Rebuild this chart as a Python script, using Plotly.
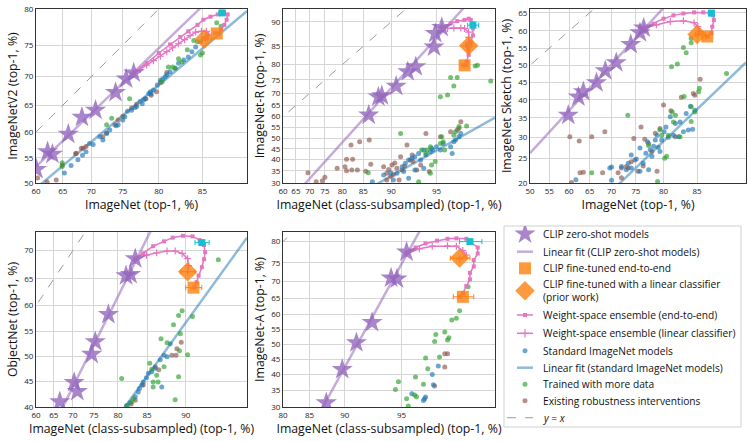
import numpy as np
import plotly.graph_objects as go

# ---------------- data (percent values) ----------------
# Panel 1: ImageNet vs ImageNetV2
v2_star_x = [60.1, 62.2, 63.1, 66.0, 68.4, 70.7, 73.9, 75.5, 76.6]
v2_star_y = [52.7, 56.2, 55.7, 59.6, 62.8, 64.1, 67.3, 69.6, 70.6]
v2_blue_x = [65.3, 67.7, 69.1, 69.7, 71.4, 71.9, 73.0, 74.3, 75.0, 75.7, 76.3, 77.0, 77.5, 78.2, 78.7, 78.9, 79.3, 79.8, 80.2, 80.8, 81.4, 82.0, 82.4, 83.0, 83.5, 83.9, 84.3, 84.8, 85.1, 85.5, 72.5, 74.0, 76.8, 78.0, 79.0, 81.0, 66.5, 68.5, 70.3, 75.3, 77.8, 80.5]
v2_blue_y = [52.0, 54.6, 56.2, 57.8, 59.1, 58.5, 60.4, 61.4, 62.3, 63.9, 64.1, 64.8, 65.7, 66.2, 67.1, 67.4, 67.7, 68.6, 69.4, 70.0, 70.8, 71.4, 72.2, 72.7, 73.2, 74.0, 74.7, 75.5, 76.0, 76.5, 59.8, 61.2, 64.6, 66.0, 67.0, 70.3, 53.5, 55.5, 57.6, 62.9, 65.3, 69.6]
v2_brown_x = [64.9, 67.4, 68.6, 69.1, 71.9, 72.5, 73.8, 74.3, 75.0, 76.3, 77.0, 78.3, 79.0, 79.7, 80.2, 81.0, 60.3, 62.1, 63.8, 67.3, 68.3]
v2_brown_y = [53.6, 55.9, 56.9, 57.2, 59.1, 59.8, 61.4, 62.3, 63.0, 64.5, 65.2, 66.2, 66.8, 67.4, 69.0, 70.7, 51.0, 50.2, 50.6, 55.8, 56.9]
v2_green_x = [64.9, 64.9, 73.3, 72.5, 76.0, 81.2, 82.4, 83.4, 84.5, 85.0, 84.1, 82.8, 81.7, 80.4, 84.8, 82.0, 86.4, 86.8]
v2_green_y = [54.0, 53.3, 62.6, 61.4, 66.2, 71.6, 72.9, 74.3, 75.5, 73.8, 75.7, 72.4, 71.6, 69.1, 73.5, 71.4, 78.2, 77.7]
v2_e2e_x = [76.6, 78.4, 80.0, 81.4, 82.6, 83.5, 84.5, 85.1, 85.8, 86.5, 87.0, 87.4, 87.3, 87.1, 86.8, 86.4]
v2_e2e_y = [70.6, 72.2, 73.8, 75.1, 76.2, 77.0, 77.9, 78.6, 79.0, 79.3, 79.5, 79.3, 78.6, 77.9, 77.2, 76.7]
v2_lin_x = [76.6, 77.5, 78.4, 79.3, 80.2, 81.0, 81.7, 82.4, 83.1, 83.7, 84.3, 84.9, 85.4, 85.6, 85.3]
v2_lin_y = [70.6, 71.2, 71.9, 72.6, 73.3, 74.0, 74.6, 75.2, 75.8, 76.4, 76.9, 77.0, 77.0, 76.5, 75.9]
v2_ft = [86.4, 76.7, 0.3]      # x, y, x-error
v2_ftlin = [85.2, 75.9, 0.3]
v2_best = [86.9, 79.5, 0.3]
v2_bluefit = [0.838, -0.382]   # slope, intercept in logit space

# Panel 2: ImageNet-R
r_star_x = [86.1, 87.9, 88.5, 90.7, 92.2, 93.1, 94.8, 94.9, 95.4]
r_star_y = [60.7, 68.5, 69.0, 72.7, 77.8, 79.4, 84.8, 87.8, 89.0]
r_brown_x = [69.4, 72.2, 74.2, 75.0, 78.6, 80.7, 81.1, 82.6, 81.1, 82.4, 83.7, 85.5, 86.5, 82.2, 84.2, 86.2, 88.8, 89.3, 89.9, 90.1, 90.8, 91.3, 91.5, 91.1, 92.1, 92.7, 92.8, 93.2, 93.6, 94.1, 94.4, 95.3, 96.0, 96.4, 96.6, 96.5, 92.5, 89.3, 90.3, 90.5, 89.6, 91.8]
r_brown_y = [34.2, 30.5, 30.9, 32.3, 36.1, 36.8, 40.1, 40.1, 35.1, 35.4, 35.4, 34.9, 37.9, 46.8, 48.3, 49.1, 36.8, 34.0, 32.6, 37.6, 36.1, 41.3, 35.4, 31.2, 46.8, 42.1, 39.1, 35.4, 37.6, 52.2, 34.7, 50.6, 53.0, 53.8, 57.7, 54.6, 39.8, 31.2, 33.5, 38.5, 35.6, 37.0]
r_blue_x = [86.8, 88.8, 89.9, 90.8, 91.5, 91.9, 92.3, 92.7, 93.0, 93.4, 93.6, 93.9, 94.1, 94.5, 94.7, 95.0, 95.3, 95.5, 96.0, 96.1, 96.2, 96.3, 96.6, 96.5, 93.9, 93.0, 91.7, 90.3, 92.3, 94.6]
r_blue_y = [30.5, 33.3, 34.2, 34.0, 36.8, 38.3, 39.8, 40.6, 41.3, 42.8, 39.8, 44.4, 42.1, 43.6, 44.4, 45.9, 44.4, 47.5, 45.9, 42.8, 48.3, 49.1, 52.2, 50.6, 36.1, 35.4, 34.7, 31.2, 31.9, 45.2]
r_green_x = [91.3, 86.0, 93.4, 94.5, 94.6, 94.9, 94.1, 94.2, 94.5, 95.3, 95.4, 95.6, 96.2, 96.3, 96.5, 96.9, 95.5, 93.7, 95.3, 95.8, 96.0, 96.4, 96.2, 97.9, 97.4, 97.3]
r_green_y = [52.2, 34.2, 30.5, 34.0, 37.6, 39.1, 42.8, 44.4, 45.9, 47.5, 50.6, 44.4, 51.4, 53.0, 55.4, 55.7, 48.3, 44.4, 68.6, 69.3, 75.8, 75.8, 72.8, 74.6, 79.8, 79.6]
r_e2e_x = [95.4, 96.0, 96.4, 96.8, 97.0, 97.1, 97.2, 97.2, 97.2, 97.1, 97.0, 97.0, 96.9, 96.8]
r_e2e_y = [89.0, 89.7, 90.1, 90.3, 90.5, 90.3, 89.7, 88.8, 87.4, 85.9, 84.3, 82.8, 80.9, 79.8]
r_lin_x = [95.4, 95.8, 96.2, 96.6, 96.8, 97.0, 97.0, 97.0, 96.9]
r_lin_y = [89.0, 88.8, 88.9, 88.9, 88.8, 88.1, 87.0, 85.9, 85.1]
r_ft = [96.8, 79.8, 0.15]
r_ftlin = [97.0, 85.1, 0.15]
r_best = [97.2, 89.4, 0.25]
r_bluefit = [0.6425, -2.126]

# Panel 3: ImageNet Sketch
s_star_x = [59.8, 62.3, 63.5, 66.6, 68.6, 71.0, 74.0, 75.8, 76.5]
s_star_y = [35.7, 40.8, 42.3, 44.9, 48.4, 50.8, 56.1, 59.5, 60.8]
s_blue_x = [61.7, 70.0, 72.1, 73.5, 74.1, 75.1, 75.8, 76.4, 76.9, 77.2, 78.0, 78.3, 78.6, 78.9, 79.4, 79.7, 80.1, 80.4, 80.8, 81.1, 81.6, 81.9, 82.4, 82.6, 83.1, 83.5, 83.8, 84.1, 84.4, 84.7, 77.4, 74.1, 70.0, 73.1, 75.8, 77.7, 79.1, 69.6]
s_blue_y = [20.6, 23.2, 23.3, 24.0, 25.8, 24.9, 27.4, 24.0, 26.2, 28.9, 25.5, 27.8, 29.3, 30.5, 26.6, 29.3, 31.4, 32.6, 30.0, 35.3, 30.5, 33.5, 30.1, 33.9, 31.4, 36.2, 31.8, 38.2, 32.0, 37.1, 22.6, 23.0, 20.5, 22.6, 22.3, 27.0, 27.6, 23.0]
s_brown_x = [60.2, 62.5, 65.5, 68.5, 62.7, 63.5, 68.0, 71.4, 72.1, 73.5, 74.1, 74.8, 74.6, 76.0, 76.7, 77.4, 78.6, 79.4, 80.0, 78.9, 81.9, 82.8, 84.5, 85.4, 84.7, 72.1, 73.1, 78.0, 60.6, 81.2, 75.4, 76.4]
s_brown_y = [30.1, 29.1, 30.1, 31.4, 22.0, 22.1, 22.0, 22.0, 21.0, 23.0, 24.3, 24.7, 29.7, 32.6, 29.5, 28.5, 31.0, 32.2, 38.5, 22.3, 30.1, 40.7, 41.8, 45.9, 41.3, 23.0, 23.3, 26.6, 20.1, 36.9, 22.3, 23.4]
s_green_x = [81.3, 82.2, 88.5, 73.4, 83.2, 85.3, 85.2, 84.2, 84.7, 81.4, 81.9, 81.6, 79.4, 79.7, 79.0, 80.5, 80.2, 80.8, 82.6, 84.2, 65.5, 77.4, 83.1, 83.5, 84.2, 84.2]
s_green_y = [49.6, 50.4, 47.6, 35.7, 40.9, 43.3, 42.3, 38.0, 36.6, 36.6, 35.7, 33.9, 31.8, 30.5, 20.3, 25.5, 25.1, 30.5, 30.1, 34.0, 22.0, 28.0, 55.2, 53.7, 57.9, 56.6]
s_e2e_x = [76.5, 78.3, 80.0, 81.6, 83.1, 84.6, 85.8, 86.6, 87.0, 87.1, 86.9, 86.8, 86.3]
s_e2e_y = [60.8, 62.0, 63.4, 64.3, 64.8, 65.1, 65.1, 65.0, 64.3, 63.0, 61.2, 59.4, 58.4]
s_lin_x = [76.5, 78.8, 81.1, 83.1, 84.6, 85.1, 85.4, 85.0]
s_lin_y = [60.8, 61.7, 62.6, 62.8, 62.3, 61.2, 59.8, 59.0]
s_ft = [86.3, 58.4, 0.2]
s_ftlin = [85.0, 59.0, 0.2]
s_best = [86.8, 64.9, 0.2]
s_bluefit = [1.085, -2.40]

# Panel 4: ObjectNet
o_star_x = [66.6, 70.3, 71.1, 74.5, 75.3, 78.1, 81.5, 82.3, 83.1]
o_star_y = [41.0, 44.8, 43.0, 50.4, 52.9, 58.3, 65.6, 65.8, 68.6]
o_green_x = [80.7, 93.0, 89.6, 89.2, 88.6, 90.7, 89.4, 87.0, 87.8, 89.3, 90.2, 85.4, 85.7, 86.4, 85.9, 86.6, 85.9, 89.2, 88.8, 87.4, 82.8, 82.5, 81.7]
o_green_y = [45.6, 68.4, 59.0, 58.1, 56.3, 57.9, 54.5, 53.5, 52.7, 51.1, 50.3, 48.6, 47.4, 46.2, 44.9, 44.9, 43.9, 45.9, 41.4, 47.9, 41.6, 41.0, 40.2]
o_blue_x = [81.6, 83.1, 83.6, 84.2, 84.4, 85.2, 85.7, 86.2, 86.9, 87.4, 87.8, 88.2, 87.1, 82.2, 84.9, 83.8]
o_blue_y = [40.3, 42.0, 42.9, 44.3, 44.9, 46.6, 46.9, 47.6, 49.3, 50.2, 49.9, 52.5, 43.9, 40.8, 45.7, 43.6]
o_brown_x = [84.4, 86.2, 88.4, 88.9, 89.0, 89.5, 83.1, 82.4, 86.7]
o_brown_y = [44.3, 47.9, 50.2, 50.2, 51.5, 52.8, 41.3, 40.6, 47.3]
o_e2e_x = [83.1, 84.4, 85.9, 87.4, 88.5, 89.7, 90.7, 91.4, 91.8, 91.9, 91.8, 91.6, 91.3, 91.1, 90.9]
o_e2e_y = [68.6, 69.5, 70.7, 71.5, 72.1, 72.4, 72.3, 71.7, 70.9, 69.7, 68.5, 67.1, 65.6, 64.4, 63.4]
o_lin_x = [83.1, 84.9, 86.4, 87.8, 88.8, 89.6, 90.2, 90.3, 90.2]
o_lin_y = [68.3, 69.2, 69.6, 69.9, 69.9, 69.5, 68.6, 67.4, 66.3]
o_ft = [90.8, 63.4, 0.8]
o_ftlin = [90.2, 66.3, 0.75]
o_best = [91.6, 71.3, 0.65]
o_bluefit = [0.927, -1.767]

# Panel 5: ImageNet-A
a_star_x = [87.6, 89.7, 91.3, 92.8, 94.3, 94.7, 95.3]
a_star_y = [31.2, 41.6, 50.5, 57.3, 71.0, 70.7, 77.7]
a_green_x = [97.85, 97.6, 97.5, 97.35, 97.1, 97.25, 96.75, 97.2, 96.7, 96.9, 96.3, 96.4, 95.8, 96.2, 94.8, 94.6, 95.3, 95.75, 95.4, 95.85]
a_green_y = [68.5, 61.1, 58.7, 58.1, 54.1, 52.2, 53.3, 51.4, 50.9, 45.7, 45.4, 41.8, 39.1, 36.8, 37.6, 35.2, 32.4, 33.5, 30.3, 33.0]
a_blue_x = [96.85, 96.6, 96.65, 95.6, 96.3, 96.25, 96.2]
a_blue_y = [42.7, 39.9, 36.7, 33.9, 32.9, 32.4, 31.9]
a_brown_x = [97.1, 97.2, 97.1, 96.7]
a_brown_y = [46.8, 46.8, 42.4, 36.3]
a_e2e_x = [95.3, 95.8, 96.3, 96.8, 97.2, 97.5, 97.8, 97.9, 98.1, 98.1, 98.0, 98.0, 97.9, 97.9, 97.8, 97.7, 97.6]
a_e2e_y = [77.5, 78.7, 79.6, 80.2, 80.6, 80.7, 80.6, 80.0, 78.7, 77.3, 75.7, 74.1, 72.4, 70.6, 68.7, 66.6, 65.5]
a_lin_x = [95.3, 96.0, 96.6, 97.2, 97.5, 97.7, 97.8, 97.6]
a_lin_y = [77.3, 78.4, 79.0, 79.1, 79.0, 78.0, 76.9, 76.0]
a_ft = [97.7, 65.5, 0.3]
a_ftlin = [97.6, 76.2, 0.3]
a_best = [97.9, 80.0, 0.3]

# axis ticks and ranges (percent)
v2_xticks = [60, 65, 70, 75, 80, 85]; v2_yticks = [50, 55, 60, 65, 70, 75, 80]
r_xticks = [60, 65, 70, 75, 80, 85, 90, 95]; r_yticks = list(range(30, 95, 5))
s_xticks = list(range(50, 90, 5)); s_yticks = list(range(20, 70, 5))
o_xticks = [60, 65, 70, 75, 80, 85, 90]; o_yticks = [40, 45, 50, 55, 60, 65, 70]
a_xticks = [80, 85, 90, 95]; a_yticks = list(range(30, 85, 5))

legend_labels = [
    'CLIP zero-shot models',
    'Linear fit (CLIP zero-shot models)',
    'CLIP fine-tuned end-to-end',
    'CLIP fine-tuned with a linear classifier<br>(prior work)',
    'Weight-space ensemble (end-to-end)',
    'Weight-space ensemble (linear classifier)',
    'Standard ImageNet models',
    'Linear fit (standard ImageNet models)',
    'Trained with more data',
    'Existing robustness interventions',
    '<i>y</i> = <i>x</i>',
]

# ---------------- helpers ----------------
def logit(p):
    p = np.asarray(p, dtype=float) / 100.0
    return np.log(p / (1.0 - p))

PURPLE = '#9467bd'
PURPLE_L = 'rgba(148,103,189,0.55)'
BLUE = '#1f77b4'
BLUE_L = 'rgba(31,119,180,0.5)'
GREEN = '#2ca02c'
BROWN = '#8c564b'
ORANGE = '#ff7f0e'
PINK = '#e377c2'
CYAN = '#17becf'
FONT = 'Open Sans'

W, H = 748, 442

def fx(px):
    return px / W

def fy(py):
    return 1 - py / H

panels = [
    dict(sx=v2_star_x, sy=v2_star_y, bx=v2_blue_x, by=v2_blue_y, gx=v2_green_x, gy=v2_green_y,
         rx=v2_brown_x, ry=v2_brown_y, ex=v2_e2e_x, ey=v2_e2e_y, lx=v2_lin_x, ly=v2_lin_y,
         ft=v2_ft, ftlin=v2_ftlin, best=v2_best, bfit=v2_bluefit,
         xr=[60, 89], yr=[50, 80], xt=v2_xticks, yt=v2_yticks,
         xtitle='ImageNet (top-1, %)', ytitle='ImageNetV2 (top-1, %)',
         px=(36, 247), py=(9, 183)),
    dict(sx=r_star_x, sy=r_star_y, bx=r_blue_x, by=r_blue_y, gx=r_green_x, gy=r_green_y,
         rx=r_brown_x, ry=r_brown_y, ex=r_e2e_x, ey=r_e2e_y, lx=r_lin_x, ly=r_lin_y,
         ft=r_ft, ftlin=r_ftlin, best=r_best, bfit=r_bluefit,
         xr=[60, 98.04], yr=[30, 91.96], xt=r_xticks, yt=r_yticks,
         xtitle='ImageNet (class-subsampled) (top-1, %)', ytitle='ImageNet-R (top-1, %)',
         px=(283, 495), py=(9, 183)),
    dict(sx=s_star_x, sy=s_star_y, bx=s_blue_x, by=s_blue_y, gx=s_green_x, gy=s_green_y,
         rx=s_brown_x, ry=s_brown_y, ex=s_e2e_x, ey=s_e2e_y, lx=s_lin_x, ly=s_lin_y,
         ft=s_ft, ftlin=s_ftlin, best=s_best, bfit=s_bluefit,
         xr=[50, 90.4], yr=[20, 66], xt=s_xticks, yt=s_yticks,
         xtitle='ImageNet (top-1, %)', ytitle='ImageNet Sketch (top-1, %)',
         px=(530, 746), py=(9, 183)),
    dict(sx=o_star_x, sy=o_star_y, bx=o_blue_x, by=o_blue_y, gx=o_green_x, gy=o_green_y,
         rx=o_brown_x, ry=o_brown_y, ex=o_e2e_x, ey=o_e2e_y, lx=o_lin_x, ly=o_lin_y,
         ft=o_ft, ftlin=o_ftlin, best=o_best, bfit=o_bluefit,
         xr=[60, 94.93], yr=[40, 73], xt=o_xticks, yt=o_yticks,
         xtitle='ImageNet (class-subsampled) (top-1, %)', ytitle='ObjectNet (top-1, %)',
         px=(36, 247), py=(232, 407)),
    dict(sx=a_star_x, sy=a_star_y, bx=a_blue_x, by=a_blue_y, gx=a_green_x, gy=a_green_y,
         rx=a_brown_x, ry=a_brown_y, ex=a_e2e_x, ey=a_e2e_y, lx=a_lin_x, ly=a_lin_y,
         ft=a_ft, ftlin=a_ftlin, best=a_best, bfit=None,
         xr=[80, 98.48], yr=[30, 82], xt=a_xticks, yt=a_yticks,
         xtitle='ImageNet (class-subsampled) (top-1, %)', ytitle='ImageNet-A (top-1, %)',
         px=(283, 495), py=(232, 407)),
]

fig = go.Figure()

def errx(v):
    x, e = v[0], v[2]
    return dict(type='data', symmetric=False,
                array=[float(logit(x + e) - logit(x))],
                arrayminus=[float(logit(x) - logit(x - e))],
                thickness=1, width=2.5)

STAR_M = dict(symbol='star', size=16, color=PURPLE, opacity=0.8, line=dict(width=0))
SQ_M = dict(symbol='square', size=12, color=ORANGE, opacity=0.8, line=dict(width=0))
DIA_M = dict(symbol='diamond', size=15, color=ORANGE, opacity=0.8, line=dict(width=0))
E2E_M = dict(symbol='square', size=4, color=PINK)
LIN_M = dict(symbol='cross-thin', size=5, color=PINK, line=dict(color=PINK, width=1.2))
PINK_L = dict(color=PINK, width=1.5)
YX_L = dict(color='#9a9a9a', width=1, dash='dash')

def dot(c):
    return dict(size=5, color=c, opacity=0.65, line=dict(width=0))

layout_axes = {}
for i, p in enumerate(panels):
    k = '' if i == 0 else str(i + 1)
    xa, ya = 'x' + k, 'y' + k
    xr = [float(v) for v in logit(p['xr'])]
    yr = [float(v) for v in logit(p['yr'])]
    common = dict(xaxis=xa, yaxis=ya, showlegend=False, hoverinfo='skip')

    lo, hi = min(xr[0], yr[0]), max(xr[1], yr[1])
    fig.add_trace(go.Scatter(x=[lo, hi], y=[lo, hi], mode='lines', line=YX_L, **common))
    sl, ic = np.polyfit(logit(p['sx']), logit(p['sy']), 1)
    fig.add_trace(go.Scatter(x=xr, y=[sl * xr[0] + ic, sl * xr[1] + ic], mode='lines',
                             line=dict(color=PURPLE_L, width=2.5), **common))
    if p['bfit'] is not None:
        bs, bi = p['bfit']
        fig.add_trace(go.Scatter(x=xr, y=[bs * xr[0] + bi, bs * xr[1] + bi], mode='lines',
                                 line=dict(color=BLUE_L, width=2.5), **common))
    for xs, ys, c in [(p['rx'], p['ry'], BROWN), (p['bx'], p['by'], BLUE), (p['gx'], p['gy'], GREEN)]:
        fig.add_trace(go.Scatter(x=logit(xs), y=logit(ys), mode='markers', marker=dot(c), **common))
    fig.add_trace(go.Scatter(x=logit(p['lx']), y=logit(p['ly']), mode='lines+markers',
                             line=PINK_L, marker=LIN_M, **common))
    fig.add_trace(go.Scatter(x=logit(p['ex']), y=logit(p['ey']), mode='lines+markers',
                             line=PINK_L, marker=E2E_M, **common))
    fig.add_trace(go.Scatter(x=logit(p['sx']), y=logit(p['sy']), mode='markers', marker=STAR_M, **common))
    fig.add_trace(go.Scatter(x=logit([p['ftlin'][0]]), y=logit([p['ftlin'][1]]), mode='markers',
                             marker=DIA_M, error_x=dict(color=ORANGE, **errx(p['ftlin'])), **common))
    fig.add_trace(go.Scatter(x=logit([p['ft'][0]]), y=logit([p['ft'][1]]), mode='markers',
                             marker=SQ_M, error_x=dict(color=ORANGE, **errx(p['ft'])), **common))
    fig.add_trace(go.Scatter(x=logit([p['best'][0]]), y=logit([p['best'][1]]), mode='markers',
                             marker=dict(symbol='square', size=7, color=CYAN, line=dict(width=0)),
                             error_x=dict(color=CYAN, **errx(p['best'])), **common))

    axstyle = dict(showgrid=True, gridcolor='#d6d6d6', gridwidth=1, zeroline=False,
                   showline=True, mirror=True, linecolor='#333333', linewidth=1,
                   automargin=False,
                   ticks='', tickfont=dict(size=8, color='#222', family=FONT))
    layout_axes['xaxis' + k] = dict(
        domain=[fx(p['px'][0]), fx(p['px'][1])], range=xr, anchor=ya,
        tickvals=[float(v) for v in logit(p['xt'])], ticktext=[str(t) for t in p['xt']],
        title=dict(text=p['xtitle'], font=dict(size=12.3, color='#111', family=FONT), standoff=5),
        **axstyle)
    layout_axes['yaxis' + k] = dict(
        domain=[fy(p['py'][1]), fy(p['py'][0])], range=yr, anchor=xa,
        tickvals=[float(v) for v in logit(p['yt'])], ticktext=[str(t) for t in p['yt']],
        title=dict(text=p['ytitle'], font=dict(size=12.3, color='#111', family=FONT), standoff=3),
        **axstyle)

# ---------------- hand-built legend in the sixth cell (pixel layout) ----------------
LX0, LX1, LY0, LY1 = 504, 741, 226, 427
layout_axes['xaxis6'] = dict(domain=[fx(LX0), fx(LX1)], range=[LX0, LX1], visible=False,
                             fixedrange=True, automargin=False)
layout_axes['yaxis6'] = dict(domain=[fy(LY1), fy(LY0)], range=[LY1, LY0], visible=False,
                             fixedrange=True, automargin=False)
row_y = [234, 251.7, 268.3, 290.8, 315, 333.3, 350.7, 367.7, 384.3, 400.7, 417.7]
SYM_X0, SYM_XC, SYM_X1, TEXT_X = 517, 525, 533, 541
lg = dict(xaxis='x6', yaxis='y6', showlegend=False, hoverinfo='skip')
symbols = [
    ('m', STAR_M), ('l', dict(color=PURPLE_L, width=2.5)), ('m', SQ_M), ('m', DIA_M),
    ('lm', (PINK_L, E2E_M)), ('lm', (PINK_L, dict(LIN_M, size=6))), ('m', dot(BLUE)),
    ('l', dict(color=BLUE_L, width=2.5)), ('m', dot(GREEN)), ('m', dot(BROWN)),
    ('l', dict(YX_L, width=1)),
]
for (kind, st), yy in zip(symbols, row_y):
    if kind == 'm':
        fig.add_trace(go.Scatter(x=[SYM_XC], y=[yy], mode='markers', marker=st, **lg))
    elif kind == 'l':
        x0 = 507 if st.get('dash') else SYM_X0
        fig.add_trace(go.Scatter(x=[x0, SYM_X1], y=[yy, yy], mode='lines', line=st, **lg))
    else:
        fig.add_trace(go.Scatter(x=[SYM_X0, SYM_X1], y=[yy, yy], mode='lines', line=st[0], **lg))
        fig.add_trace(go.Scatter(x=[SYM_XC], y=[yy], mode='markers', marker=st[1], **lg))

annotations = []
for lab, yy in zip(legend_labels, row_y):
    annotations.append(dict(x=TEXT_X, y=yy, xref='x6', yref='y6', text=lab, showarrow=False,
                            xanchor='left', yanchor='middle', align='left',
                            font=dict(size=10.2, family=FONT, color='#111')))

fig.update_layout(
    width=W, height=H, margin=dict(l=0, r=0, t=0, b=0, autoexpand=False),
    paper_bgcolor='white', plot_bgcolor='white',
    font=dict(family=FONT, size=10, color='#111'),
    showlegend=False,
    annotations=annotations,
    shapes=[dict(type='rect', xref='paper', yref='paper',
                 x0=fx(LX0), x1=fx(LX1), y0=fy(LY1), y1=fy(LY0),
                 line=dict(color='#d0d0d0', width=1), fillcolor='rgba(0,0,0,0)', layer='below')],
    **layout_axes)

# remove the browser's default 8px page margin so the figure fills the window exactly
fig.write_html('out.html', config={'displayModeBar': False},
               post_script="document.body.style.margin='0px';document.body.style.overflow='hidden';")
